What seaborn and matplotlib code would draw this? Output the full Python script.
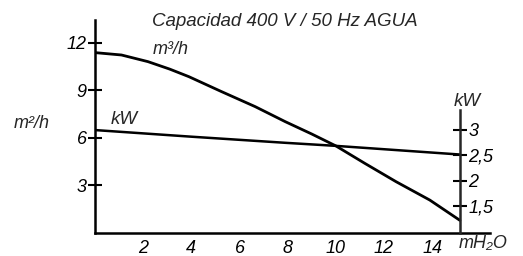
import matplotlib
matplotlib.use("Agg")
import matplotlib.pyplot as plt
import seaborn as sns
import pandas as pd

# pump curve (m3/h vs mH2O)
head = [0, 1.1, 2.2, 3.1, 3.9, 5.25, 6.65, 7.9, 9.0, 10, 11.2, 12.5, 13.9, 15.15]
flow = [11.39, 11.24, 10.82, 10.35, 9.87, 8.93, 7.98, 7.03, 6.25, 5.5, 4.4, 3.24, 2.08, 0.8]

# power line (kW vs mH2O)
kw_head = [0, 4, 7.9, 10, 15.15]
kw = [2.99, 2.86, 2.74, 2.68, 2.51]

left_ticks = [3, 6, 9, 12]
bottom_ticks = [2, 4, 6, 8, 10, 12, 14]
kw_ticks = [1.5, 2, 2.5, 3]
kw_labels = ["1,5", "2", "2,5", "3"]

sns.set_style("white")
plt.rcParams["font.family"] = ["Liberation Sans Narrow", "Liberation Sans", "DejaVu Sans"]
plt.rcParams["font.style"] = "italic"

W, H = 523, 256
fig = plt.figure(figsize=(W / 100, H / 100), dpi=100)
ax = fig.add_axes([95 / W, 23 / H, 395 / W, 213 / H])

df = pd.DataFrame({"head": head, "flow": flow})
sns.lineplot(data=df, x="head", y="flow", ax=ax, color="black", linewidth=2.0)

ax.set_xlim(0, 16.4)
ax.set_ylim(0, 13.45)
for s in ["top", "right"]:
    ax.spines[s].set_visible(False)
for s in ["left", "bottom"]:
    ax.spines[s].set_color("black")
    ax.spines[s].set_linewidth(1.8)
ax.set_xticks(bottom_ticks)
ax.set_yticks(left_ticks)
ax.tick_params(axis="both", direction="inout", length=10, width=1.5, colors="black",
               labelsize=13, pad=1)
ax.tick_params(axis="x", pad=0)
ax.set_xlabel("")
ax.set_ylabel("")
for lbl in ax.get_xticklabels() + ax.get_yticklabels():
    lbl.set_style("italic")

# right kW axis placed at the end of the curve
ax2 = ax.twinx()
ax2.set_ylim(0.97, 5.15)
dk = pd.DataFrame({"head": kw_head, "kw": kw})
sns.lineplot(data=dk, x="head", y="kw", ax=ax2, color="black", linewidth=1.8)
for s in ["top", "left", "bottom"]:
    ax2.spines[s].set_visible(False)
ax2.spines["right"].set_position(("data", 15.15))
ax2.spines["right"].set_bounds(0.97, 3.38)
ax2.spines["right"].set_linewidth(1.8)
ax2.set_yticks(kw_ticks)
ax2.set_yticklabels(kw_labels)
ax2.tick_params(axis="y", direction="inout", length=10, width=1.5, colors="black",
                labelsize=13, pad=1)
ax2.set_ylabel("")
ax2.set_xlabel("")
for lbl in ax2.get_yticklabels():
    lbl.set_style("italic")

fig.text(152 / W, 1 - 22 / H, "Capacidad 400 V / 50 Hz AGUA", fontsize=13.5,
         style="italic", va="center", ha="left")
fig.text(153 / W, 1 - 50 / H, "m³/h", fontsize=13, style="italic", va="center")
fig.text(111 / W, 1 - 119 / H, "kW", fontsize=13.5, style="italic", va="center")
fig.text(14 / W, 1 - 123 / H, "m²/h", fontsize=13, style="italic", va="center")
fig.text(454 / W, 1 - 101 / H, "kW", fontsize=13.5, style="italic", va="center")
fig.text(459 / W, 1 - 244 / H, "mH₂O", fontsize=13, style="italic", va="center")

fig.savefig("out.png", dpi=100)
